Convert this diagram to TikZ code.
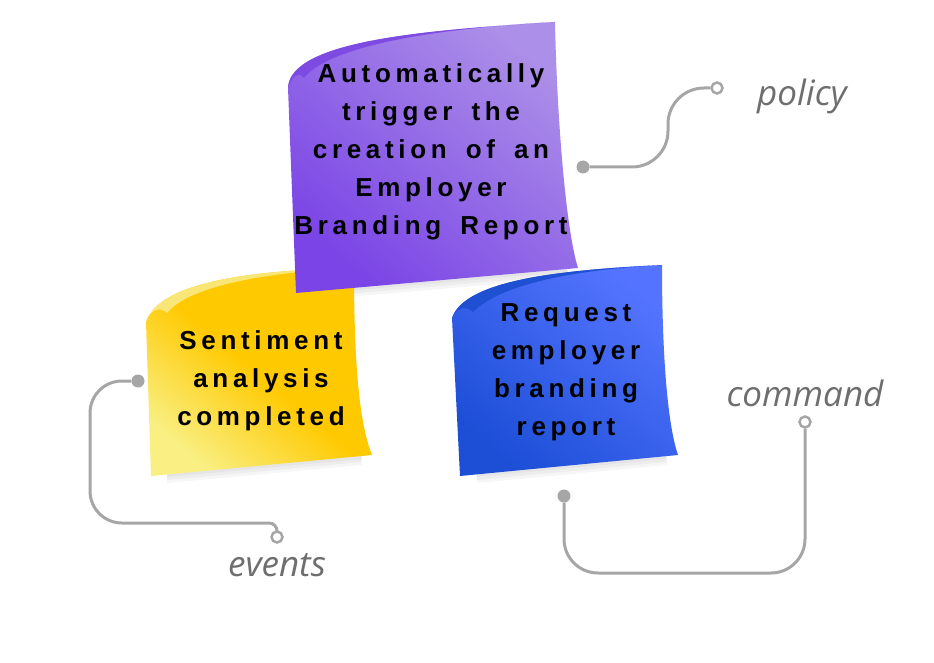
\documentclass[tikz,border=0pt]{standalone}
\usepackage{fontspec}
\usepackage{xcolor}
\newfontfamily\notefont[LetterSpace=18,WordSpace=1.6]{Liberation Sans}
\newfontfamily\tagfont{Open Sans}
\definecolor{wiregray}{HTML}{A6A6A6}
\definecolor{taggray}{HTML}{6E6E6E}
\definecolor{purpledark}{HTML}{7A44E6}
\definecolor{purplelight}{HTML}{AC8FE8}
\definecolor{purpleband}{HTML}{7D4BE2}
\definecolor{yellowdark}{HTML}{FFC900}
\definecolor{yellowlight}{HTML}{F9EF82}
\definecolor{yellowband}{HTML}{F8E676}
\definecolor{bluedark}{HTML}{1C4ED6}
\definecolor{bluelight}{HTML}{5474FF}
\definecolor{blueband}{HTML}{1F50D2}
\begin{document}
\begin{tikzpicture}[x=1pt,y=-1pt,
  wire/.style={draw=wiregray, line width=3pt},
  dotfill/.style={circle, fill=wiregray, inner sep=0pt, minimum size=13pt},
  dotopen/.style={circle, draw=wiregray, fill=white, line width=2.5pt, inner sep=0pt, minimum size=11pt},
  notetext/.style={font=\notefont\bfseries\fontsize{26}{38}\selectfont, align=center, text=black},
  tag/.style={font=\tagfont\itshape\fontsize{35}{40}\selectfont, text=taggray, anchor=base},
  shadowfill/.style={fill=black, opacity=0.035}]
\useasboundingbox (0,0) rectangle (934,663);

% soft shadows
\foreach \dy in {3,6,9}{
\begin{scope}[shift={(2,\dy)}]
\fill[shadowfill] (165,474) -- (360,456) -- (354,400) -- (165,420) -- cycle;
\fill[shadowfill] (475,474) -- (665,456) -- (660,400) -- (470,420) -- cycle;
\fill[shadowfill] (310,291) -- (566,269) -- (560,220) -- (305,240) -- cycle;
\end{scope}
}

% yellow note
\shade[top color=yellowdark, bottom color=yellowlight, middle color=yellowdark, shading angle=-40]
  (151,476) -- (372,455) .. controls (360,425) and (354,370) .. (354,268)
  .. controls (260,270) and (160,280) .. (146,322) -- cycle;
\fill[yellowband] (146,322) .. controls (160,280) and (260,270) .. (354,268)
  .. controls (270,272) and (190,285) .. (167,313) .. controls (160,306) and (150,310) .. (146,322) -- cycle;

% blue note
\shade[top color=bluelight, bottom color=bluedark, shading angle=-40]
  (460,476) -- (678,455) .. controls (666,420) and (662,340) .. (662,265)
  .. controls (560,270) and (465,280) .. (452,318) -- cycle;
\fill[blueband] (452,318) .. controls (465,280) and (560,270) .. (662,265)
  .. controls (570,270) and (500,285) .. (473,312) .. controls (466,305) and (456,308) .. (452,318) -- cycle;

% purple note
\shade[top color=purplelight, bottom color=purpledark, shading angle=-40]
  (296,293) -- (578,268) .. controls (566,230) and (557,120) .. (555,22)
  .. controls (430,30) and (290,40) .. (288,88) -- cycle;
\fill[purpleband] (288,88) .. controls (290,40) and (430,30) .. (555,22)
  .. controls (440,28) and (330,45) .. (304,78) .. controls (300,72) and (292,75) .. (288,88) -- cycle;

% note texts
\node[notetext] (trigger) at (431,152) {Automatically\\trigger the\\creation of an\\Employer\\Branding Report};
\node[notetext] (sentiment) at (261,381) {Sentiment\\analysis\\completed};
\node[notetext] (request) at (566,372) {Request\\employer\\branding\\report};

% connectors
\node[dotfill] (policydot) at (583,167) {};
\node[dotopen] (policytip) at (717,88) {};
\draw[wire, rounded corners=36pt] (policydot) -- (668,167) -- (668,88) -- (policytip);

\node[dotfill] (eventsdot) at (138,381) {};
\node[dotopen] (eventstip) at (277,537) {};
\draw[wire, rounded corners=32pt] (eventsdot) -- (90,381) -- (90,523) [rounded corners=8pt] -- (277,523) -- (eventstip);

\node[dotfill] (commanddot) at (564,496) {};
\node[dotopen] (commandtip) at (805,422) {};
\draw[wire, rounded corners=34pt] (commanddot) -- (564,573) -- (805,573) -- (commandtip);

% labels
\node[tag] (policy) at (802,106) {policy};
\node[tag] (command) at (805,406) {command};
\node[tag] (events) at (277,576) {events};

\end{tikzpicture}
\end{document}
